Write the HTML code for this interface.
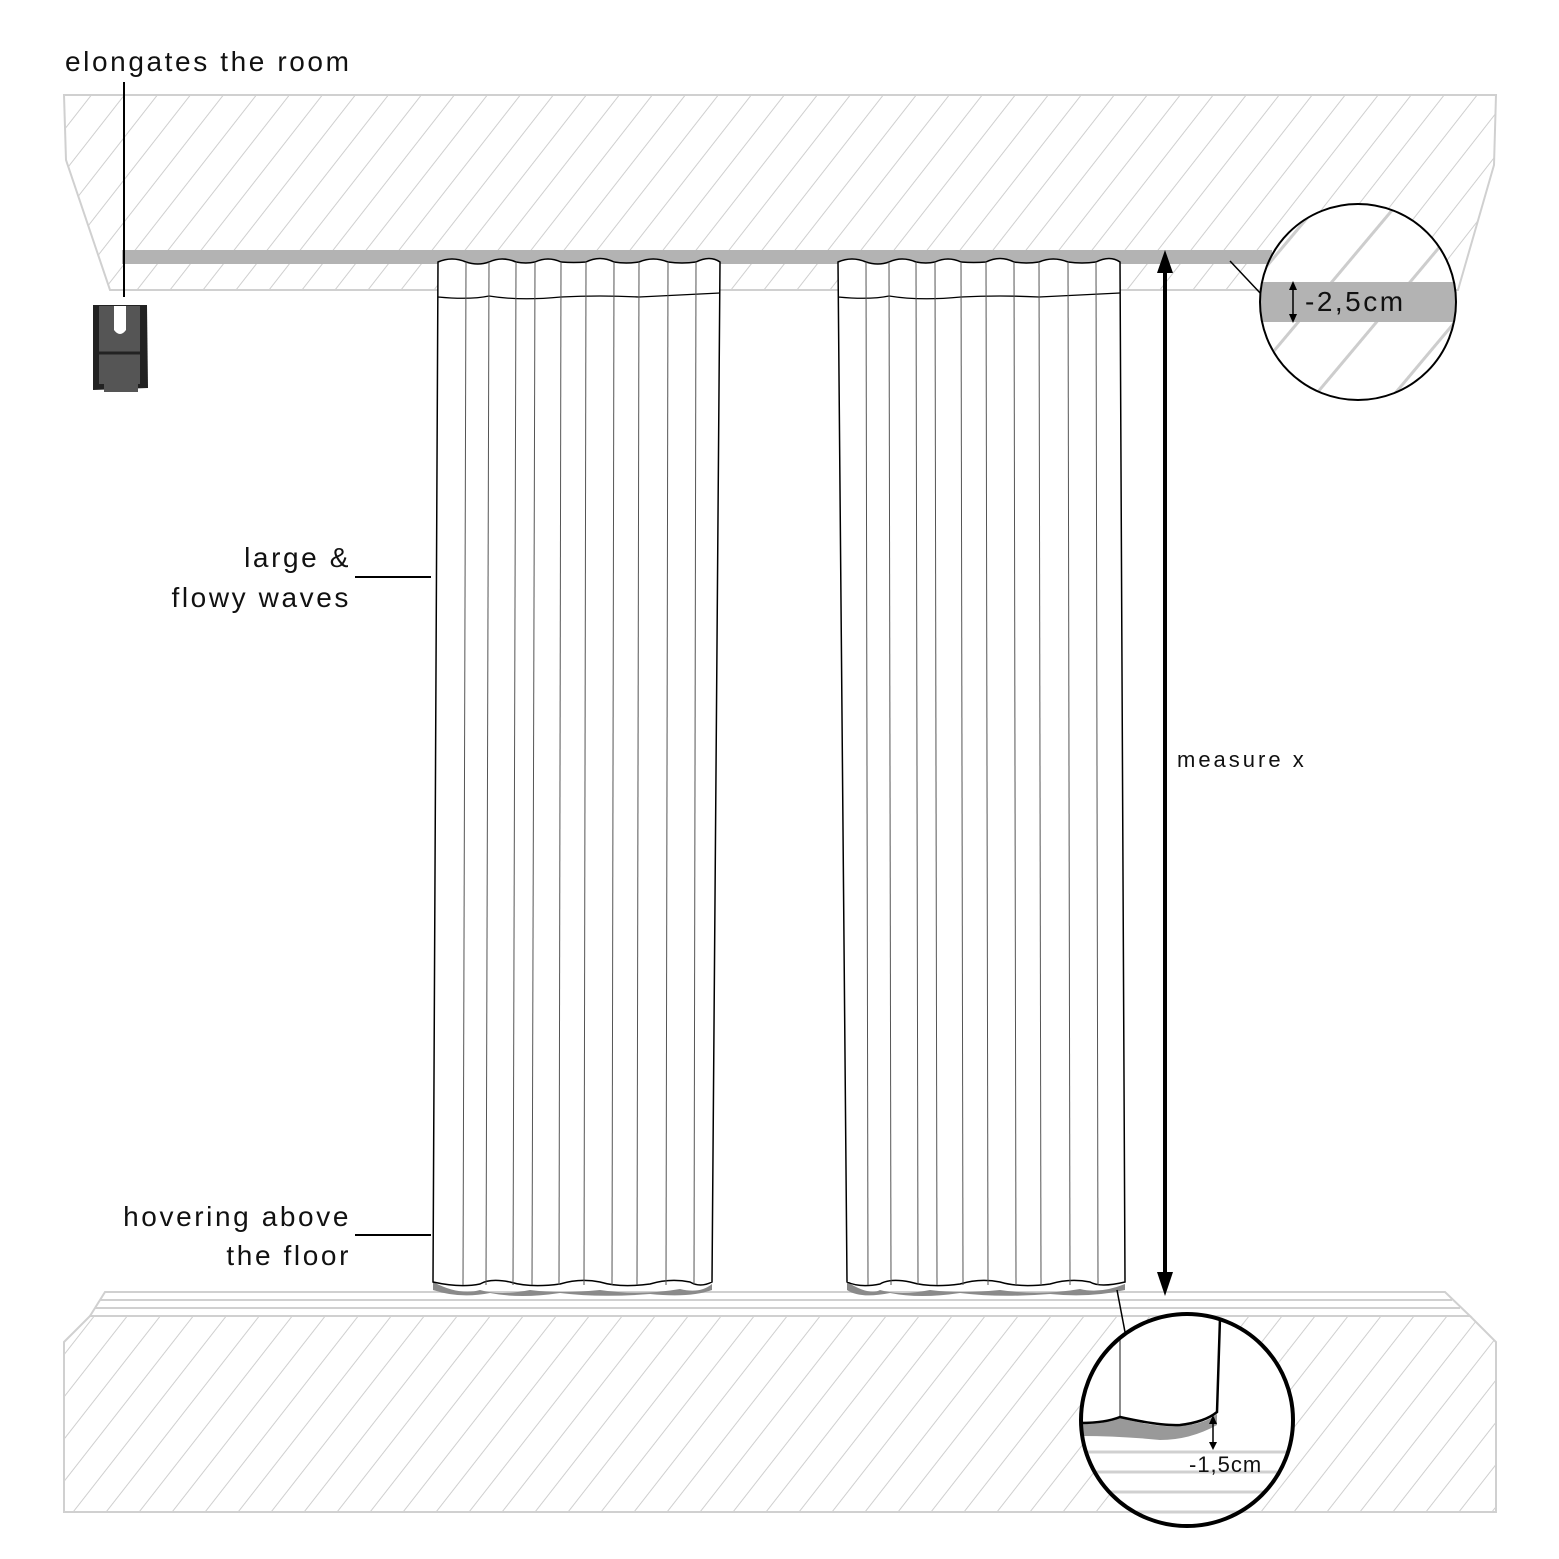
<!DOCTYPE html>
<html><head><meta charset="utf-8"><style>html,body{margin:0;padding:0;background:#fff}svg{display:block}</style></head>
<body>
<svg width="1559" height="1559" viewBox="0 0 1559 1559" xmlns="http://www.w3.org/2000/svg" font-family="Liberation Sans, sans-serif">
<defs>
<pattern id="h" width="26" height="26" patternUnits="userSpaceOnUse" patternTransform="rotate(38)">
<line x1="0" y1="0" x2="0" y2="26" stroke="#cfcfcf" stroke-width="2"/>
</pattern>
<pattern id="h2" width="60" height="60" patternUnits="userSpaceOnUse" patternTransform="rotate(40)">
<line x1="0" y1="0" x2="0" y2="60" stroke="#cdcdcd" stroke-width="6"/>
</pattern>
<clipPath id="c1"><circle cx="1358" cy="302" r="98"/></clipPath>
<clipPath id="c2"><circle cx="1187" cy="1420" r="106"/></clipPath>
</defs>
<!-- ceiling -->
<polygon points="64,95 1496,95 1494,165 1458,290 110,290 66,160" fill="url(#h)" stroke="#d0d0d0" stroke-width="2"/>
<rect x="122" y="250" width="1150" height="14" fill="#b3b3b3"/>
<!-- floor -->
<polygon points="64,1342 90,1316 1470,1316 1496,1342 1496,1512 64,1512" fill="url(#h)" stroke="#d0d0d0" stroke-width="2"/>
<polygon points="90,1316 105,1292 1445,1292 1470,1316" fill="#fff" stroke="#d0d0d0" stroke-width="2"/>
<line x1="100" y1="1300" x2="1452" y2="1300" stroke="#d0d0d0" stroke-width="2"/>
<line x1="95" y1="1308" x2="1460" y2="1308" stroke="#d0d0d0" stroke-width="2"/>
<!-- left curtain -->
<g>
<path d="M433,1282 Q460,1296 480,1290 Q500,1296 530,1290 Q560,1294 600,1290 Q640,1296 680,1289 Q700,1294 712,1284 L712,1290 Q690,1298 650,1294 Q600,1298 560,1293 Q520,1299 490,1293 Q460,1299 433,1290Z" fill="#8a8a8a"/>
<path d="M438,262 Q452,256 466,262 Q478,266 489,262 Q502,256 516,262 Q526,264 535,262 Q548,256 561,262 Q574,263 586,262 Q600,255 614,262 Q626,264 639,262 Q653,256 668,262 Q682,264 696,262 Q710,255 720,262 L712,1282 Q700,1288 690,1282 Q670,1278 650,1284 Q620,1288 600,1282 Q580,1278 560,1284 Q530,1288 510,1282 Q490,1278 480,1284 Q460,1288 433,1282 Z" fill="#fff" stroke="#000" stroke-width="1.5"/>
<path d="M438,297 Q470,300 489,296 Q520,301 561,297 Q600,295 639,297 Q680,295 720,293" fill="none" stroke="#000" stroke-width="1.3"/>
<g stroke="#555" stroke-width="1">
<line x1="466" y1="262" x2="463" y2="1285"/><line x1="489" y1="262" x2="486" y2="1285"/><line x1="516" y1="262" x2="513" y2="1285"/><line x1="535" y1="262" x2="532" y2="1285"/><line x1="561" y1="262" x2="559" y2="1285"/><line x1="586" y1="262" x2="584" y2="1285"/><line x1="614" y1="262" x2="612" y2="1285"/><line x1="639" y1="262" x2="637" y2="1285"/><line x1="668" y1="262" x2="666" y2="1285"/><line x1="696" y1="262" x2="694" y2="1285"/>
</g>
</g>
<!-- right curtain -->
<g transform="translate(400,0)">
<path d="M447,1282 Q470,1296 480,1290 Q500,1296 530,1290 Q560,1294 600,1290 Q640,1296 680,1289 Q700,1294 725,1284 L725,1290 Q690,1298 650,1294 Q600,1298 560,1293 Q520,1299 490,1293 Q460,1299 447,1290Z" fill="#8a8a8a"/>
<path d="M438,262 Q452,256 466,262 Q478,266 489,262 Q502,256 516,262 Q526,264 535,262 Q548,256 561,262 Q574,263 586,262 Q600,255 614,262 Q626,264 639,262 Q653,256 668,262 Q682,264 696,262 Q710,255 720,262 L725,1282 Q700,1288 690,1282 Q670,1278 650,1284 Q620,1288 600,1282 Q580,1278 560,1284 Q530,1288 510,1282 Q490,1278 480,1284 Q460,1288 447,1282 Z" fill="#fff" stroke="#000" stroke-width="1.5"/>
<path d="M438,297 Q470,300 489,296 Q520,301 561,297 Q600,295 639,297 Q680,295 720,293" fill="none" stroke="#000" stroke-width="1.3"/>
<g stroke="#555" stroke-width="1">
<line x1="466" y1="262" x2="468" y2="1285"/><line x1="489" y1="262" x2="491" y2="1285"/><line x1="516" y1="262" x2="518" y2="1285"/><line x1="535" y1="262" x2="537" y2="1285"/><line x1="561" y1="262" x2="563" y2="1285"/><line x1="586" y1="262" x2="588" y2="1285"/><line x1="614" y1="262" x2="616" y2="1285"/><line x1="639" y1="262" x2="641" y2="1285"/><line x1="668" y1="262" x2="670" y2="1285"/><line x1="696" y1="262" x2="698" y2="1285"/>
</g>
</g>
<!-- bracket -->
<line x1="124" y1="82" x2="124" y2="297" stroke="#000" stroke-width="2"/>
<path d="M93,305 L147,305 L148,388 L93,390 Z" fill="#222"/>
<path d="M99,306 L140,306 L140,384 L99,384 Z" fill="#555"/>
<path d="M114,306 L126,306 L126,330 Q120,338 114,330 Z" fill="#fff"/>
<line x1="99" y1="353" x2="140" y2="353" stroke="#222" stroke-width="3"/>
<rect x="104" y="384" width="34" height="8" fill="#555"/>
<!-- labels -->
<text x="65" y="71" font-size="28" fill="#111" letter-spacing="2.6">elongates the room</text>
<text x="351" y="567" font-size="28" text-anchor="end" fill="#111" letter-spacing="2.6">large &amp;</text>
<text x="351" y="607" font-size="28" text-anchor="end" fill="#111" letter-spacing="2.6">flowy waves</text>
<line x1="355" y1="577" x2="431" y2="577" stroke="#000" stroke-width="2"/>
<text x="351" y="1226" font-size="28" text-anchor="end" fill="#111" letter-spacing="2.6">hovering above</text>
<text x="351" y="1265" font-size="28" text-anchor="end" fill="#111" letter-spacing="2.6">the floor</text>
<line x1="355" y1="1235" x2="431" y2="1235" stroke="#000" stroke-width="2"/>
<text x="1177" y="767" font-size="22" fill="#111" letter-spacing="3">measure x</text>
<!-- measure arrow -->
<line x1="1165" y1="270" x2="1165" y2="1275" stroke="#000" stroke-width="4"/>
<polygon points="1157,273 1165,250 1173,273" fill="#000"/>
<polygon points="1157,1272 1165,1296 1173,1272" fill="#000"/>
<!-- top circle -->
<line x1="1230" y1="261" x2="1262" y2="295" stroke="#000" stroke-width="1.5"/>
<circle cx="1358" cy="302" r="98" fill="#fff"/>
<g clip-path="url(#c1)">
<rect x="1250" y="190" width="220" height="220" fill="url(#h2)"/>
<rect x="1250" y="282" width="220" height="40" fill="#b3b3b3"/>
</g>
<circle cx="1358" cy="302" r="98" fill="none" stroke="#000" stroke-width="2"/>
<line x1="1293" y1="286" x2="1293" y2="318" stroke="#000" stroke-width="1.5"/>
<polygon points="1289,290 1293,281 1297,290" fill="#000"/>
<polygon points="1289,314 1293,323 1297,314" fill="#000"/>
<text x="1305" y="311" font-size="28" fill="#111" letter-spacing="2.5">-2,5cm</text>
<!-- bottom circle -->
<line x1="1117" y1="1290" x2="1125" y2="1332" stroke="#000" stroke-width="1.5"/>
<circle cx="1187" cy="1420" r="106" fill="#fff"/>
<g clip-path="url(#c2)">
<g stroke="#d0d0d0" stroke-width="3">
<line x1="1070" y1="1452" x2="1300" y2="1452"/><line x1="1070" y1="1472" x2="1300" y2="1472"/><line x1="1070" y1="1492" x2="1300" y2="1492"/><line x1="1070" y1="1512" x2="1300" y2="1512"/>
</g>
<path d="M1080,1424 Q1105,1424 1120,1418 Q1160,1428 1180,1426 Q1205,1424 1217,1414 L1217,1425 Q1190,1440 1160,1440 Q1120,1436 1080,1436Z" fill="#999"/>
<path d="M1080,1423 Q1105,1423 1120,1417 Q1160,1426 1180,1425 Q1205,1422 1217,1412 L1220,1318 L1080,1318Z" fill="#fff"/>
<line x1="1120" y1="1318" x2="1120" y2="1417" stroke="#666" stroke-width="1.5"/>
<path d="M1080,1423 Q1105,1423 1120,1417 Q1160,1426 1180,1425 Q1205,1422 1217,1412 L1220,1318" fill="none" stroke="#000" stroke-width="2.5"/>
</g>
<circle cx="1187" cy="1420" r="106" fill="none" stroke="#000" stroke-width="4"/>
<line x1="1213" y1="1418" x2="1213" y2="1446" stroke="#000" stroke-width="1.5"/>
<polygon points="1209,1424 1213,1415 1217,1424" fill="#000"/>
<polygon points="1209,1442 1213,1450 1217,1442" fill="#000"/>
<text x="1189" y="1472" font-size="22" fill="#111" letter-spacing="1">-1,5cm</text>
</svg>
</body></html>
